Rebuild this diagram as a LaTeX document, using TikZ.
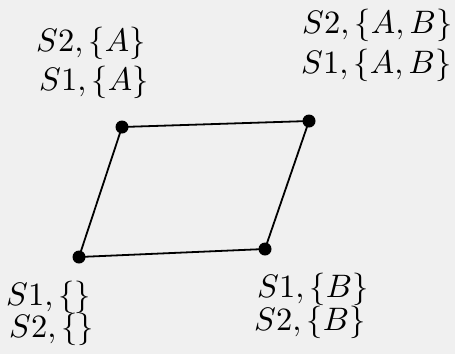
\documentclass[tikz,border=0pt]{standalone}
\definecolor{bgcol}{RGB}{240,240,240}
\newcommand{\biglab}[1]{\scalebox{3.25}{$#1$}}
\tikzset{
  dot/.style={circle,fill=black,inner sep=0pt,minimum size=13pt},
  lab/.style={anchor=base west,inner sep=0pt},
  edge/.style={line width=1.8pt}
}
\begin{document}
\begin{tikzpicture}[x=1pt,y=-1pt]
\fill[bgcol] (0,0) rectangle (455,354);
\useasboundingbox (0,0) rectangle (455,354);
\node[dot] (tl) at (122,127) {};
\node[dot] (tr) at (309,121) {};
\node[dot] (bl) at (79,257) {};
\node[dot] (br) at (265,249) {};
\draw[edge] (tl.center) -- (tr.center);
\draw[edge] (tl.center) -- (bl.center);
\draw[edge] (bl.center) -- (br.center);
\draw[edge] (tr.center) -- (br.center);
\node[lab] (tl2) at (36,51) {\biglab{S2,\{A\}}};
\node[lab] (tl1) at (39,90) {\biglab{S1,\{A\}}};
\node[lab] (tr2) at (302,33) {\biglab{S2,\{A,B\}}};
\node[lab] (tr1) at (301,73) {\biglab{S1,\{A,B\}}};
\node[lab] (bl1) at (6,305) {\biglab{S1,\{\}}};
\node[lab] (bl2) at (9,337) {\biglab{S2,\{\}}};
\node[lab] (br1) at (257,297) {\biglab{S1,\{B\}}};
\node[lab] (br2) at (254,330) {\biglab{S2,\{B\}}};
\end{tikzpicture}
\end{document}
